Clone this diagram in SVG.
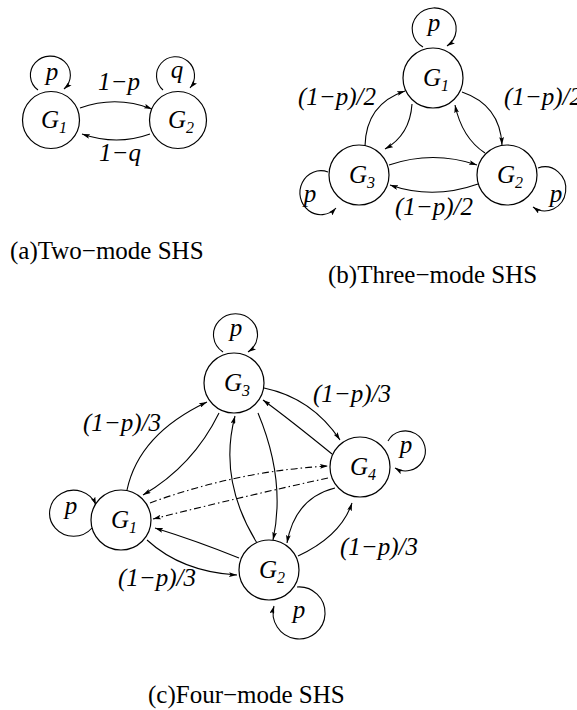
<svg xmlns="http://www.w3.org/2000/svg" width="577" height="710" viewBox="0 0 577 710">
<style>
.node{fill:#fff;stroke:#000;stroke-width:1.2}
.e{fill:none;stroke:#000;stroke-width:1.1;marker-end:url(#ah)}
.dd{stroke-dasharray:7 3 1.5 3}
.lbl{font-family:"Liberation Serif","Times New Roman",serif;font-style:italic;font-size:25px;fill:#000}
.nl{font-family:"Liberation Serif","Times New Roman",serif;font-style:italic;font-size:25px;fill:#000;text-anchor:middle}
.sub{font-size:16px}
.cap{font-family:"Liberation Serif","Times New Roman",serif;font-size:25px;fill:#000}
</style>
<defs>
<marker id="ah" viewBox="0 0 10 6" refX="10" refY="3" markerWidth="8" markerHeight="4.8" markerUnits="userSpaceOnUse" orient="auto">
<path d="M0,0 L10,3 L0,6 L2,3 z" fill="#000"/>
</marker>
</defs>
<rect width="577" height="710" fill="#fff"/>

<g id="connectors">
<!-- panel a -->
<path class="e" d="M38,90 A20,19 0 1 1 64,89"/>
<path class="e" d="M163,90 A19,19 0 1 1 190,88"/>
<path class="e" d="M80,108 Q116,95 152,109"/>
<path class="e" d="M150,134 Q117,146 82,134"/>
<!-- panel b -->
<path class="e" d="M423,47 A22,21 0 1 1 447,46"/>
<path class="e" d="M328,172 A21,22 0 1 0 336,208"/>
<path class="e" d="M538,168 A21,22 0 1 1 533,207"/>
<path class="e" d="M365,146 Q366,104 405,91"/>
<path class="e" d="M412,104 Q410,135 385,149"/>
<path class="e" d="M462,92 Q500,105 502,145"/>
<path class="e" d="M485,153 Q462,138 455,105"/>
<path class="e" d="M389,165 Q433,150 477,165"/>
<path class="e" d="M478,184 Q433,200 390,185"/>
<!-- panel c -->
<path class="e" d="M223,352 A22,21 0 1 1 248,352"/>
<path class="e" d="M388,441 A20,20 0 1 1 395,468"/>
<path class="e" d="M92,528 A24,23 0 1 1 96,505"/>
<path class="e" d="M297,587 A26,26 0 1 1 274,606"/>
<path class="e" d="M264,388 Q312,398 340,440"/>
<path class="e" d="M332,454 Q289,419 263,400"/>
<path class="e dd" d="M150,503 Q237,471 328,466"/>
<path class="e dd" d="M328,478 Q245,496 153,519"/>
<path class="e" d="M127,490 Q139,434 207,402"/>
<path class="e" d="M219,413 Q193,466 143,495"/>
<path class="e" d="M257,543 Q218,480 235,416"/>
<path class="e" d="M258,413 Q286,480 273,540"/>
<path class="e" d="M239,558 Q197,541 155,528"/>
<path class="e" d="M147,540 Q182,572 237,575"/>
<path class="e" d="M335,488 Q295,498 287,543"/>
<path class="e" d="M298,556 Q341,536 352,503"/>
</g>

<g id="a-G1"><circle class="node" cx="51" cy="120" r="28.5"/><text class="nl" x="54" y="128">G<tspan class="sub" dy="5">1</tspan></text></g>
<g id="a-G2"><circle class="node" cx="178" cy="120" r="28.5"/><text class="nl" x="181" y="128">G<tspan class="sub" dy="5">2</tspan></text></g>

<g id="b-G1"><circle class="node" cx="433" cy="78" r="30"/><text class="nl" x="436" y="86">G<tspan class="sub" dy="5">1</tspan></text></g>
<g id="b-G3"><circle class="node" cx="359" cy="175" r="30"/><text class="nl" x="362" y="183">G<tspan class="sub" dy="5">3</tspan></text></g>
<g id="b-G2"><circle class="node" cx="507" cy="175" r="30"/><text class="nl" x="510" y="183">G<tspan class="sub" dy="5">2</tspan></text></g>

<g id="c-G3"><circle class="node" cx="234" cy="383" r="30"/><text class="nl" x="237" y="391">G<tspan class="sub" dy="5">3</tspan></text></g>
<g id="c-G4"><circle class="node" cx="360" cy="467" r="30"/><text class="nl" x="363" y="475">G<tspan class="sub" dy="5">4</tspan></text></g>
<g id="c-G1"><circle class="node" cx="121" cy="520" r="30"/><text class="nl" x="124" y="528">G<tspan class="sub" dy="5">1</tspan></text></g>
<g id="c-G2"><circle class="node" cx="269" cy="570" r="30"/><text class="nl" x="272" y="578">G<tspan class="sub" dy="5">2</tspan></text></g>

<g id="labels">
<text class="nl" x="52" y="80">p</text>
<text class="nl" x="177" y="78">q</text>
<text class="nl" x="119" y="90">1−p</text>
<text class="nl" x="120" y="161">1−q</text>

<text class="nl" x="434" y="31">p</text>
<text class="nl" x="310" y="202">p</text>
<text class="nl" x="556" y="202">p</text>
<text class="lbl" x="298" y="105">(1−p)/2</text>
<text class="lbl" x="504" y="105">(1−p)/2</text>
<text class="lbl" x="395" y="215">(1−p)/2</text>

<text class="nl" x="236" y="336">p</text>
<text class="nl" x="406" y="453">p</text>
<text class="nl" x="71" y="514">p</text>
<text class="nl" x="299" y="618">p</text>
<text class="lbl" x="83" y="431">(1−p)/3</text>
<text class="lbl" x="313" y="402">(1−p)/3</text>
<text class="lbl" x="340" y="555">(1−p)/3</text>
<text class="lbl" x="118" y="586">(1−p)/3</text>
</g>

<g id="captions">
<text class="cap" x="10" y="259">(a)Two−mode SHS</text>
<text class="cap" x="328" y="283">(b)Three−mode SHS</text>
<text class="cap" x="148" y="703">(c)Four−mode SHS</text>
</g>
</svg>
